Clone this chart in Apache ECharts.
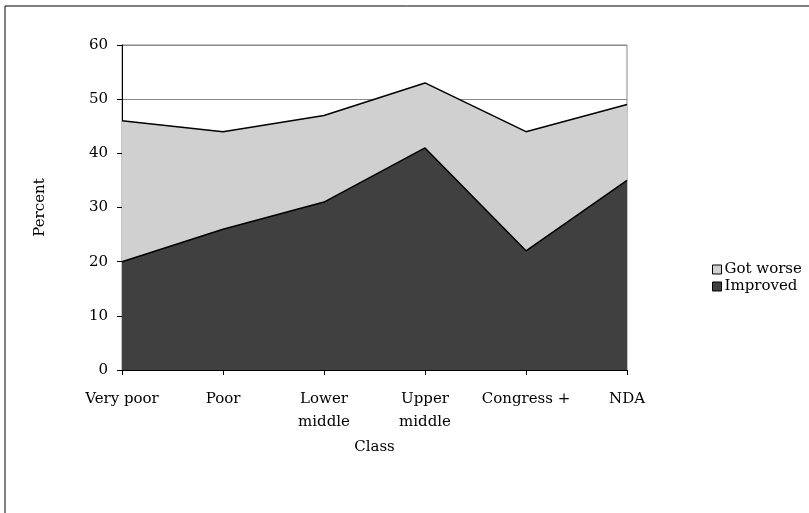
<!DOCTYPE html>
<html>
<head>
<meta charset="utf-8">
<script src="https://cdn.jsdelivr.net/npm/echarts@6/dist/echarts.min.js"></script>
<style>
  html, body { margin: 0; padding: 0; background: #fff; }
  #chart { width: 809px; height: 513px; }
</style>
</head>
<body>
<div id="chart"></div>
<script>
// Share of respondents by class
const categories = ['Very poor', 'Poor', 'Lower\nmiddle', 'Upper\nmiddle', 'Congress +', 'NDA'];
const improved = [20, 26, 31, 41, 22, 35];
const gotWorse = [26, 18, 16, 12, 22, 14];
const yTicks = [0, 10, 20, 30, 40, 50, 60];

const FONT = '"DejaVu Serif", "Liberation Serif", serif';
const FS = 15;
const chart = echarts.init(document.getElementById('chart'), null, { renderer: 'canvas' });

chart.setOption({
  animation: false,
  backgroundColor: '#fff',
  textStyle: { fontFamily: FONT, color: '#000' },
  graphic: [{
    type: 'rect',
    shape: { x: 5, y: 6, width: 820, height: 530 },
    style: { fill: 'none', stroke: '#000', lineWidth: 1 },
    silent: true, z: -10
  }],
  grid: {
    left: 122, right: 182, top: 45, bottom: 143,
    show: true, borderColor: '#888', borderWidth: 1, backgroundColor: '#fff'
  },
  legend: {
    left: 707, top: 257, orient: 'vertical',
    itemWidth: 9, itemHeight: 9, itemGap: 2, icon: 'rect',
    textStyle: { fontFamily: FONT, fontSize: 15, color: '#000', padding: [0, 0, 0, -2] },
    data: [
      { name: 'Got worse', itemStyle: { color: '#d0d0d0', borderColor: '#000', borderWidth: 1 } },
      { name: 'Improved', itemStyle: { color: '#404040', borderColor: '#000', borderWidth: 1 } }
    ]
  },
  xAxis: {
    type: 'category',
    data: categories,
    boundaryGap: false,
    name: 'Class', nameLocation: 'middle', nameGap: 70,
    nameTextStyle: { fontFamily: FONT, fontSize: FS, color: '#000' },
    axisLine: { lineStyle: { color: '#000', width: 1 } },
    axisTick: { show: true, length: 5, lineStyle: { color: '#000' } },
    axisLabel: { fontFamily: FONT, fontSize: FS, color: '#000', margin: 18, lineHeight: 23, interval: 0 },
    splitLine: { show: false }
  },
  yAxis: {
    type: 'value',
    min: yTicks[0], max: yTicks[yTicks.length - 1], interval: 10,
    name: 'Percent', nameLocation: 'middle', nameGap: 74, nameRotate: 90,
    nameTextStyle: { fontFamily: FONT, fontSize: FS, color: '#000' },
    axisLine: { show: true, lineStyle: { color: '#000', width: 1 } },
    axisTick: { show: true, length: 5, lineStyle: { color: '#000' } },
    axisLabel: { fontFamily: FONT, fontSize: FS, color: '#000', margin: 14 },
    splitLine: { show: true, lineStyle: { color: '#888', width: 1 } }
  },
  series: [
    {
      name: 'Improved', type: 'line', stack: 'total', data: improved,
      symbol: 'none', lineStyle: { color: '#000', width: 1.5 },
      itemStyle: { color: '#404040' },
      areaStyle: { color: '#404040', opacity: 1 }, z: 3
    },
    {
      name: 'Got worse', type: 'line', stack: 'total', data: gotWorse,
      symbol: 'none', lineStyle: { color: '#000', width: 1.5 },
      itemStyle: { color: '#d0d0d0' },
      areaStyle: { color: '#d0d0d0', opacity: 1 }, z: 2
    }
  ]
});
</script>
</body>
</html>
